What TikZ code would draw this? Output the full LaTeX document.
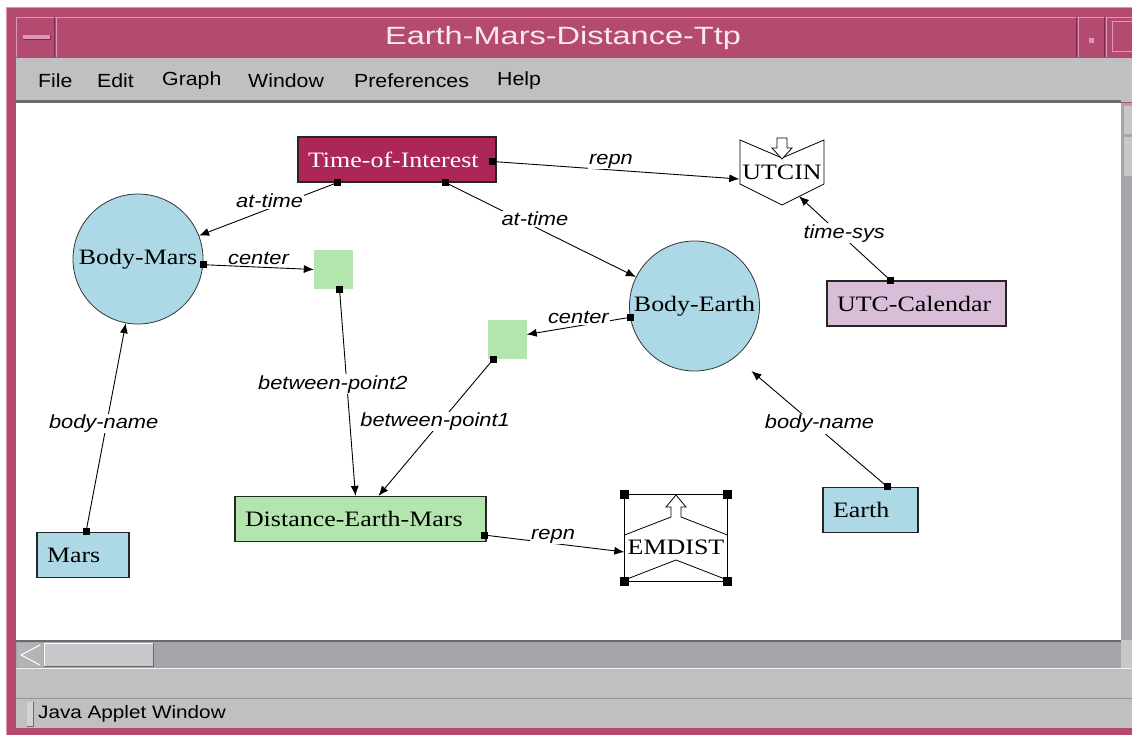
\documentclass[tikz,border=0pt]{standalone}
\usepackage{fontspec}
\setmainfont{Liberation Serif}[FakeStretch=1.18]
\newfontfamily\labfont{Liberation Sans}[FakeStretch=1.15]
\newfontfamily\titlefont{Liberation Sans}[FakeStretch=1.3]
\newfontfamily\menufont{Liberation Sans}[FakeStretch=1.12]
\usetikzlibrary{arrows.meta,calc}
\definecolor{pinkframe}{RGB}{181,74,112}
\definecolor{pinklight}{RGB}{222,150,182}
\definecolor{pinkdark}{RGB}{130,40,75}
\definecolor{titletext}{RGB}{248,232,240}
\definecolor{menugray}{RGB}{192,192,194}
\definecolor{sbgray}{RGB}{166,166,170}
\definecolor{thumbgray}{RGB}{200,200,202}
\definecolor{darkline}{RGB}{105,105,110}
\definecolor{toired}{RGB}{172,38,88}
\definecolor{calpink}{RGB}{216,190,216}
\definecolor{lblue}{RGB}{173,216,230}
\definecolor{lgreen}{RGB}{178,230,172}
\begin{document}
\begin{tikzpicture}[x=1pt,y=-1pt,
  conn/.style={line width=0.9pt,-{Latex[length=10pt,width=8pt]}},
  lab/.style={fill=white,inner sep=1pt,font=\labfont\itshape\fontsize{19}{19}\selectfont},
  rectbox/.style={draw=black!85,line width=1.2pt,minimum height=45pt,inner xsep=10pt,inner ysep=0pt,align=left,font=\fontsize{22}{22}\selectfont},
  bodycirc/.style={circle,draw=black!80,line width=0.8pt,fill=lblue,minimum size=130pt,inner sep=0pt,font=\fontsize{22}{22}\selectfont},
  ptsq/.style={fill=lgreen,minimum size=39pt,inner sep=0pt},
  shapeline/.style={draw=black,line width=0.8pt},
  menuitem/.style={anchor=west,inner sep=0pt,font=\menufont\fontsize{19}{19}\selectfont},
]
\useasboundingbox (0,0) rectangle (1132,735);
% ---------- window frame ----------
\fill[white] (0,0) rectangle (1132,735);
\fill[pinkframe] (6,7) rectangle (1132,735);
\draw[pinklight,line width=1pt] (6.5,735) -- (6.5,7.5) -- (1132,7.5);
\draw[pinklight,line width=1pt] (16.5,57) -- (16.5,17.5) -- (1132,17.5);
\draw[pinkdark,line width=1pt] (54,17) -- (54,57);
\draw[pinklight,line width=1pt] (56,17) -- (56,57);
\draw[pinkdark,line width=1pt] (1076,17) -- (1076,57);
\draw[pinklight,line width=1pt] (1078,17) -- (1078,57);
\draw[pinkdark,line width=1pt] (1104,17) -- (1104,57);
\draw[pinklight,line width=1pt] (1106,17) -- (1106,57);
\draw[pinklight,line width=1pt] (1112,22) -- (1132,22);
\draw[pinklight,line width=1pt] (1112,22) -- (1112,52) -- (1132,52);
\fill[pinklight] (23,35) rectangle (50,39);
\draw[pinkdark,line width=0.6pt] (23,39) -- (50,39) -- (50,35);
\fill[pinklight] (1089,38) rectangle (1094,43);
\node[font=\titlefont\fontsize{25}{25}\selectfont,text=titletext,inner sep=0pt] (title) at (563,38) {Earth-Mars-Distance-Ttp};
% ---------- menu bar ----------
\fill[menugray] (16,58) rectangle (1132,102);
\fill[darkline] (16,100) rectangle (1121,103);
\node[menuitem] (mfile) at (38,81) {File};
\node[menuitem] (medit) at (97,81) {Edit};
\node[menuitem] (mgraph) at (162,81) {Graph};
\node[menuitem] (mwin) at (248,81) {Window};
\node[menuitem] (mpref) at (354,81) {Preferences};
\node[menuitem] (mhelp) at (497,81) {Help};
% ---------- canvas and scrollbars ----------
\fill[white] (16,103) rectangle (1121,640);
\fill[sbgray] (1121,103) rectangle (1132,640);
\fill[thumbgray] (1124,106) rectangle (1132,134);
\fill[thumbgray] (1124,137) rectangle (1132,176);
\fill[sbgray] (16,640) rectangle (1121,668);
\fill[darkline] (16,640) rectangle (1121,642);
\fill[thumbgray!90!black] (17,643) rectangle (43,667);
\draw[white,line width=1pt] (40,645) -- (21,655) -- (40,665);
\fill[thumbgray] (44,643) rectangle (153,667);
\draw[white,line width=1pt] (44,667) -- (44,643.5) -- (153,643.5);
\draw[darkline,line width=1pt] (44,666.5) -- (153,666.5) -- (153,643);
\fill[thumbgray] (1121,640) rectangle (1132,668);
\fill[menugray] (16,668) rectangle (1132,698);
\draw[white!90!gray,line width=1pt] (16,668.5) -- (1132,668.5);
\draw[darkline!70!white,line width=1pt] (16,698) -- (1132,698);
\fill[menugray] (16,699) rectangle (1132,728);
\fill[thumbgray!80!white] (27,702) rectangle (33,726);
\draw[darkline,line width=0.8pt] (33,702) -- (33,726) -- (27,726);
\node[anchor=west,inner sep=0pt,font=\labfont\fontsize{18}{18}\selectfont] (status) at (38,714) {Java Applet Window};
% ---------- nodes ----------
\node[rectbox,fill=toired,text=white,text width=178pt] (toi) at (397,159.5) {Time-of-Interest};
\node[inner sep=0pt,minimum width=85pt,minimum height=66pt,font=\fontsize{22}{22}\selectfont] (utcin) at (782,172) {UTCIN};
\node[bodycirc] (mars) at (138,259) {Body-Mars};
\node[ptsq] (g1) at (333.5,269.5) {};
\node[bodycirc] (earth) at (694.5,306) {Body-Earth};
\node[ptsq] (g2) at (507,339.5) {};
\node[rectbox,fill=calpink,text width=159pt] (utccal) at (916.5,303.5) {UTC-Calendar};
\node[rectbox,fill=lblue,text width=75pt] (earthbox) at (870.5,510) {Earth};
\node[rectbox,fill=lblue,text width=72pt] (marsbox) at (83,555) {Mars};
\node[rectbox,fill=lgreen,text width=231pt] (dist) at (360.5,519) {Distance-Earth-Mars};
\node[inner sep=0pt,minimum width=103pt,minimum height=87pt,text height=32pt,text depth=0pt,font=\fontsize{22}{22}\selectfont] (emdist) at (676,538) {EMDIST};
% ---------- special shapes ----------
\begin{scope}[shift={(utcin.center)}]
\draw[shapeline] (-42,-32) -- (0,-14) -- (42,-32) -- (42,12) -- (0,33) -- (-42,12) -- cycle;
\draw[shapeline,fill=white] (-5,-34) -- (5,-34) -- (5,-24) -- (10,-24) -- (0,-13) -- (-10,-24) -- (-5,-24) -- cycle;
\end{scope}
\begin{scope}[shift={(emdist.center)}]
\draw[shapeline] (-51.5,-43.5) rectangle (51.5,43.5);
\draw[shapeline] (-51.5,-3) -- (-5,-21) -- (-5,-31) -- (-10,-31) -- (0,-43) -- (10,-31) -- (5,-31) -- (5,-21) -- (51.5,-3);
\draw[shapeline] (-51.5,42) -- (0,22) -- (51.5,42);
\foreach \cx/\cy in {-51.5/-43.5,51.5/-43.5,-51.5/43.5,51.5/43.5}
  \fill[black] (\cx-4.5,\cy-4.5) rectangle ++(9,9);
\end{scope}
% ---------- ports and targets ----------
\coordinate (pToiL) at ($(toi.south west)+(40,0)$);
\coordinate (pToiR) at ($(toi.south west)+(148,0)$);
\coordinate (pToiE) at ($(toi.east)+(-4,2)$);
\coordinate (pMarsE) at (mars.-5);
\coordinate (pG1) at ($(g1.south)+(6,0)$);
\coordinate (pG2) at ($(g2.south west)+(6,0)$);
\coordinate (pEarthW) at (earth.190);
\coordinate (pEarthBox) at ($(earthbox.north)+(17,0)$);
\coordinate (pMarsBox) at ($(marsbox.north)+(3,0)$);
\coordinate (pCal) at ($(utccal.north west)+(64,0)$);
\coordinate (pDist) at ($(dist.south east)+(-2,-7)$);
\coordinate (tUtcinW) at ($(utcin.west)+(0,7)$);
\coordinate (tUtcinS) at ($(utcin.south)+(17,-9)$);
\coordinate (tDistA) at ($(dist.north)+(-5,0)$);
\coordinate (tDistB) at ($(dist.north)+(18,0)$);
\coordinate (tG1) at (g1.west);
\coordinate (tG2) at ($(g2.east)+(0,-5)$);
\coordinate (tEarthSE) at ($(earth.center)+(57,65)$);
\coordinate (tEMW) at ($(emdist.west)+(0,14)$);
% ---------- connectors ----------
\draw[conn] (pToiL) -- node[lab,pos=0.49,yshift=8pt]{at-time} (mars);
\draw[conn] (pToiR) -- node[lab,pos=0.47,yshift=8pt]{at-time} (earth);
\draw[conn] (pToiE) -- node[lab,pos=0.48,yshift=9pt]{repn} (tUtcinW);
\draw[conn] (pMarsE) -- node[lab,pos=0.5,yshift=9pt]{center} (tG1);
\draw[conn] (pG1) -- node[lab,pos=0.46,xshift=-14pt]{between-point2} (tDistA);
\draw[conn] (pG2) -- node[lab,pos=0.455,xshift=-6pt]{between-point1} (tDistB);
\draw[conn] (pEarthW) -- node[lab,pos=0.5,yshift=8pt]{center} (tG2);
\draw[conn] (pEarthBox) -- node[lab,pos=0.5,yshift=5pt]{body-name} (tEarthSE);
\draw[conn] (pMarsBox) -- node[lab,pos=0.52,xshift=-3pt]{body-name} (mars);
\draw[conn] (pCal) -- node[lab,pos=0.56,xshift=5pt]{time-sys} (tUtcinS);
\draw[conn] (pDist) -- node[lab,pos=0.49,yshift=7pt]{repn} (tEMW);
\foreach \p in {pToiL,pToiR,pToiE,pMarsE,pG1,pG2,pEarthW,pEarthBox,pMarsBox,pCal,pDist}
  \fill[black] ($(\p)+(-3.5,-3.5)$) rectangle ++(7,7);
\end{tikzpicture}
\end{document}
